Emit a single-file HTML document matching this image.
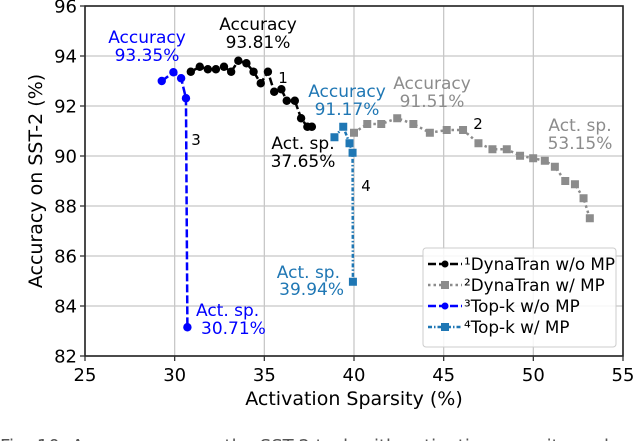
<!DOCTYPE html>
<html><head><meta charset="utf-8"><style>
body{margin:0;background:#fff;}
svg{display:block;font-family:"DejaVu Sans","Liberation Sans",sans-serif;}
</style></head><body>
<svg id="chart" width="640" height="441" viewBox="0 0 640 441">
<g id="grid"></g>
<g id="series"></g>
<g id="frame"></g>
<g id="ticks"></g>
<text x="354" y="405" font-size="19" text-anchor="middle" fill="#000">Activation Sparsity (%)</text>
<text transform="translate(42,181) rotate(-90)" font-size="19" text-anchor="middle" fill="#000">Accuracy on SST-2 (%)</text>
<g font-size="17" text-anchor="middle">
<text x="258" y="30" fill="#000"><tspan x="258">Accuracy</tspan><tspan x="258" dy="18">93.81%</tspan></text>
<text x="147" y="43" fill="#0000ff"><tspan x="147">Accuracy</tspan><tspan x="147" dy="18">93.35%</tspan></text>
<text x="303" y="149" fill="#000"><tspan x="303">Act. sp.</tspan><tspan x="303" dy="18">37.65%</tspan></text>
<text x="347" y="97" fill="#1f77b4"><tspan x="347">Accuracy</tspan><tspan x="347" dy="18">91.17%</tspan></text>
<text x="432" y="89" fill="#8c8c8c"><tspan x="432">Accuracy</tspan><tspan x="432" dy="18">91.51%</tspan></text>
<text x="580" y="131" fill="#8c8c8c"><tspan x="580">Act. sp.</tspan><tspan x="580" dy="18">53.15%</tspan></text>
<text x="344" y="278" fill="#1f77b4" text-anchor="end"><tspan x="340">Act. sp.</tspan><tspan x="344" dy="17">39.94%</tspan></text>
<text x="196" y="316" fill="#0000ff" text-anchor="start"><tspan x="196">Act. sp.</tspan><tspan x="201" dy="18">30.71%</tspan></text>
<text x="283" y="83" font-size="15" fill="#000">1</text>
<text x="478" y="129" font-size="15" fill="#000">2</text>
<text x="196" y="145" font-size="15" fill="#000">3</text>
<text x="366" y="191" font-size="15" fill="#000">4</text>
</g>
<g>
<rect x="423" y="248" width="193" height="99" rx="3" fill="#fff" fill-opacity="0.85" stroke="#ccc"/>
<g>
<line x1="428" y1="264" x2="462" y2="264" stroke="#000" stroke-width="2.5" stroke-dasharray="8,3"/><circle cx="445" cy="264" r="3.5" fill="#000"/>
<text x="464" y="270" font-size="16.8">¹DynaTran w/o MP</text></g>
<g>
<line x1="428" y1="285" x2="462" y2="285" stroke="#8c8c8c" stroke-width="2.5" stroke-dasharray="2.5,3"/><rect x="441" y="281" width="8" height="8" fill="#8c8c8c"/>
<text x="464" y="291" font-size="16.8">²DynaTran w/ MP</text></g>
<g>
<line x1="428" y1="306" x2="462" y2="306" stroke="#0000ff" stroke-width="2.5" stroke-dasharray="8,3"/><circle cx="445" cy="306" r="3.5" fill="#0000ff"/>
<text x="464" y="312" font-size="16.8">³Top-k w/o MP</text></g>
<g>
<line x1="428" y1="327" x2="462" y2="327" stroke="#1f77b4" stroke-width="2.5" stroke-dasharray="4,2,1.5,2"/><rect x="441" y="323" width="8" height="8" fill="#1f77b4"/>
<text x="464" y="333" font-size="16.8">⁴Top-k w/ MP</text></g>
</g>
<text x="0" y="452" font-size="18" fill="#555">Fig. 10: Accuracy versus the SST-2 task with activation sparsity and</text>
</svg>
<script>
const xTicks=[25,30,35,40,45,50,55];
const yTicks=[82,84,86,88,90,92,94,96];
const dynX=[30.9,31.4,31.85,32.3,32.75,33.15,33.55,34.0,34.4,34.8,35.2,35.55,35.95,36.25,36.7,37.05,37.4,37.65];
const dynY=[93.37,93.57,93.47,93.47,93.57,93.37,93.81,93.71,93.37,92.91,93.37,92.57,92.67,92.21,92.21,91.51,91.17,91.17];
const dynMpX=[40.0,40.74,41.52,42.41,43.31,44.23,45.17,46.08,46.94,47.72,48.52,49.26,49.99,50.64,51.2,51.78,52.32,52.8,53.15];
const dynMpY=[90.93,91.28,91.28,91.51,91.28,90.93,91.04,91.04,90.51,90.27,90.27,90.01,89.91,89.81,89.57,89.0,88.87,88.31,87.51];
const topkX=[29.28,29.93,30.36,30.63,30.71];
const topkY=[93.0,93.35,93.11,92.31,83.15];
const topkMpX=[38.91,39.4,39.75,39.92,39.94];
const topkMpY=[90.75,91.17,90.51,90.13,84.97];

const L=85,R=623,T=6,B=356;
const sx=v=>L+(v-25)/(55-25)*(R-L);
const sy=v=>B-(v-82)/(96-82)*(B-T);
const NS="http://www.w3.org/2000/svg";
function mk(tag,attrs,parent){const e=document.createElementNS(NS,tag);for(const k in attrs)e.setAttribute(k,attrs[k]);parent.appendChild(e);return e;}
const grid=document.getElementById('grid'),ticks=document.getElementById('ticks'),frame=document.getElementById('frame'),series=document.getElementById('series');
xTicks.forEach(v=>{
 const g=mk('line',{x1:sx(v),x2:sx(v),y1:T,y2:B,stroke:'#c8c8c8','stroke-width':1.3},grid);
 
 
 mk('line',{x1:sx(v),x2:sx(v),y1:B,y2:B+5,stroke:'#333','stroke-width':1.3},ticks);
 const t=mk('text',{x:sx(v),y:B+25,'font-size':18,'text-anchor':'middle',fill:'#000'},ticks);
 t.textContent=v;
 
 
});
yTicks.forEach(v=>{
 const g=mk('line',{x1:L,x2:R,y1:sy(v),y2:sy(v),stroke:'#c8c8c8','stroke-width':1.3},grid);
 
 
 mk('line',{x1:L-5,x2:L,y1:sy(v),y2:sy(v),stroke:'#333','stroke-width':1.3},ticks);
 const t=mk('text',{x:L-8,y:sy(v)+6.5,'font-size':18,'text-anchor':'end',fill:'#000'},ticks);
 t.textContent=v;
 
 
});
mk('rect',{x:L,y:T,width:R-L,height:B-T,fill:'none',stroke:'#222','stroke-width':1.6},frame);
function drawSeries(xs,ys,color,dash,marker,name){
 const g=mk('g',{},series);
 
 
 const pts=xs.map((x,i)=>sx(x)+','+sy(ys[i])).join(' ');
 mk('polyline',{points:pts,fill:'none',stroke:color,'stroke-width':2.5,'stroke-dasharray':dash},g);
 xs.forEach((x,i)=>{
  let m;
  if(marker==='c') m=mk('circle',{cx:sx(x),cy:sy(ys[i]),r:4.2,fill:color},g);
  else m=mk('rect',{x:sx(x)-4,y:sy(ys[i])-4,width:8,height:8,fill:color},g);
  
  
 });
}
drawSeries(dynMpX,dynMpY,'#8c8c8c','2.5,3','s','series-dynatran-mp');
drawSeries(dynX,dynY,'#000','8,3','c','series-dynatran');
drawSeries(topkMpX,topkMpY,'#1f77b4','4,2,1.5,2','s','series-topk-mp');
drawSeries(topkX,topkY,'#0000ff','8,3','c','series-topk');
</script>
</body></html>
